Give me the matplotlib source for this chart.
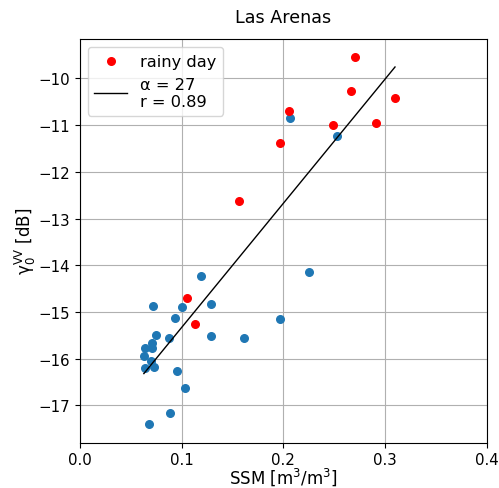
import numpy as np
import matplotlib
matplotlib.use("Agg")
import matplotlib.pyplot as plt

# non-rainy days (blue)
ssm_dry = [0.119, 0.0717, 0.1006, 0.1287, 0.0937, 0.0747, 0.0872, 0.1287, 0.1609,
           0.0711, 0.0704, 0.0642, 0.0629, 0.0698, 0.0642, 0.0724, 0.0950, 0.1029,
           0.0887, 0.0681, 0.2067, 0.2526, 0.2248, 0.1966]
sig_dry = [-14.22, -14.87, -14.90, -14.83, -15.13, -15.50, -15.55, -15.52, -15.55,
           -15.67, -15.76, -15.77, -15.94, -16.05, -16.20, -16.18, -16.27, -16.62,
           -17.15, -17.40, -10.84, -11.24, -14.15, -15.15]

# rainy days (red)
ssm_rain = [0.1049, 0.1127, 0.2706, 0.2663, 0.3096, 0.2051, 0.2483, 0.2906, 0.1966, 0.1566]
sig_rain = [-14.69, -15.25, -9.55, -10.27, -10.41, -10.69, -10.99, -10.95, -11.39, -12.62]

# linear fit
slope = 26.6
intercept = -17.99
alpha_label = 27
r_value = 0.89

fig = plt.figure(figsize=(4.99, 4.89), dpi=100)
ax = fig.add_axes([0.160, 0.093, 0.816, 0.825])

ax.scatter(ssm_dry, sig_dry, color='#1f77b4', s=30, zorder=3)
ax.scatter(ssm_rain, sig_rain, color='red', s=30, zorder=3, label='rainy day')

all_x = np.array(ssm_dry + ssm_rain)
xf = np.array([all_x.min(), all_x.max()])
ax.plot(xf, slope * xf + intercept, color='black', lw=1,
        label=f'α = {alpha_label}\nr = {r_value}', zorder=4)

ax.set_xlim(0, 0.4)
ax.set_xticks([0.0, 0.1, 0.2, 0.3, 0.4])
ax.tick_params(labelsize=10.8)
ax.grid(True, color='#b0b0b0', lw=0.8)
ax.set_axisbelow(True)
ax.set_xlabel('SSM [m$^3$/m$^3$]', fontsize=12, labelpad=-1)
ax.set_ylabel(r'γ$_0^{\mathrm{VV}}$ [dB]', fontsize=12, labelpad=0)
ax.set_title('Las Arenas', pad=12, fontsize=12.6)
ax.legend(loc='upper left', fontsize=11.7)

fig.savefig('out.png', dpi=100)
